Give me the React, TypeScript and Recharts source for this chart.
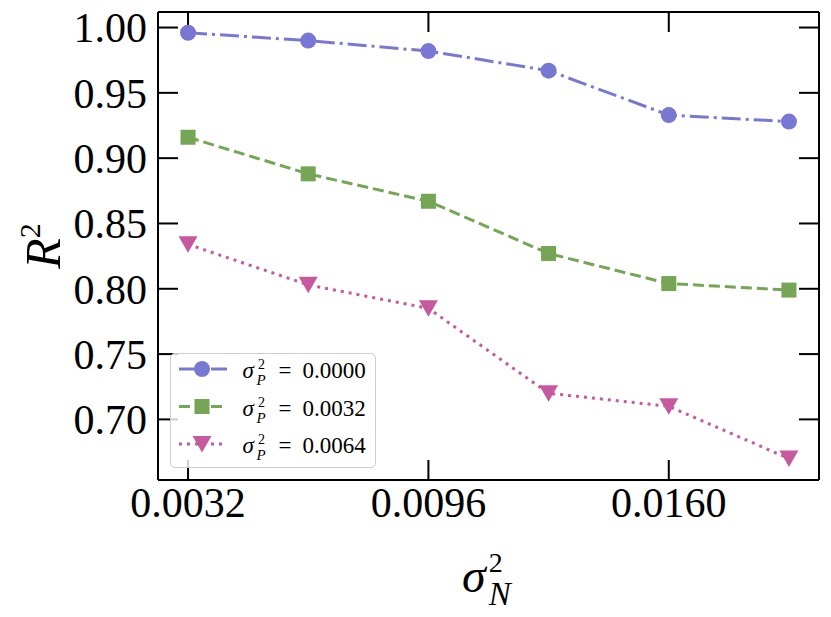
import React from "react";
import { LineChart, Line, XAxis, YAxis, Legend } from "recharts";

const SERIF = "'Liberation Serif', 'DejaVu Serif', serif";

// noise variance on the x axis, one R^2 series per prior variance
const xValues = [0.0032, 0.0064, 0.0096, 0.0128, 0.016, 0.0192];
const r2P0000 = [0.996, 0.99, 0.982, 0.967, 0.933, 0.928];
const r2P0032 = [0.916, 0.888, 0.867, 0.827, 0.804, 0.799];
const r2P0064 = [0.834, 0.803, 0.785, 0.72, 0.71, 0.67];
const seriesNames = ["0.0000", "0.0032", "0.0064"];
const xTicks = [0.0032, 0.0096, 0.016];
const yTicks = [0.7, 0.75, 0.8, 0.85, 0.9, 0.95, 1.0];

const BLUE = "#7878d4";
const GREEN = "#76a655";
const PINK = "#c75a9f";

const data = xValues.map((x, i) => ({
  x,
  p0: r2P0000[i],
  p32: r2P0032[i],
  p64: r2P0064[i],
}));

const marker = (kind: string, cx: number, cy: number, color: string, key?: any) => {
  if (kind === "circle") return <circle key={key} cx={cx} cy={cy} r={8} fill={color} />;
  if (kind === "square")
    return <rect key={key} x={cx - 7.5} y={cy - 7.5} width={15} height={15} fill={color} />;
  return (
    <polygon
      key={key}
      points={`${cx - 9.5},${cy - 8} ${cx + 9.5},${cy - 8} ${cx},${cy + 8.5}`}
      fill={color}
    />
  );
};

const styles = [
  { key: "p0", color: BLUE, dash: "19 5 3 5", kind: "circle" },
  { key: "p32", color: GREEN, dash: "11 5", kind: "square" },
  { key: "p64", color: PINK, dash: "3 5", kind: "tri" },
];

const renderLegend = () => (
  <div
    style={{
      width: 206,
      height: 115,
      boxSizing: "border-box",
      border: "1.5px solid #cccccc",
      borderRadius: 5,
      background: "rgba(255,255,255,0.8)",
    }}
  >
    <svg width={203} height={112} style={{ display: "block" }}>
      {styles.map((s, i) => {
        const cy = 15 + i * 37.5;
        return (
          <g key={s.key}>
            <line x1={8} x2={56} y1={cy} y2={cy} stroke={s.color} strokeWidth={3} strokeDasharray={s.dash} />
            {marker(s.kind, 31, cy, s.color)}
            <text fontFamily={SERIF} fill="#000" fontSize={23}>
              <tspan x={71.5} y={cy + 9} fontStyle="italic">σ</tspan>
              <tspan x={87} y={cy} fontSize={14}>2</tspan>
              <tspan x={85.5} y={cy + 16} fontSize={15} fontStyle="italic">P</tspan>
              <tspan x={107.5} y={cy + 9}>=</tspan>
              <tspan x={131.5} y={cy + 9}>{seriesNames[i]}</tspan>
            </text>
          </g>
        );
      })}
    </svg>
  </div>
);

const axisLine = { stroke: "#000", strokeWidth: 2 };
const tickLine = { stroke: "#000", strokeWidth: 2 };
const noLabel = () => <g />;

export default function App() {
  return (
    <div style={{ position: "absolute", left: 0, top: 0, width: 831, height: 617, background: "#fff" }}>
      <LineChart width={831} height={617} data={data} margin={{ top: 11, right: 11, bottom: 0, left: 0 }}>
        <XAxis
          dataKey="x"
          type="number"
          domain={[0.0024, 0.02]}
          allowDataOverflow
          ticks={xTicks}
          interval={0}
          tickFormatter={(v: number) => v.toFixed(4)}
          height={137}
          tickSize={-20}
          tickMargin={27}
          axisLine={axisLine}
          tickLine={tickLine}
          tick={{ fill: "#000", fontSize: 42, fontFamily: SERIF }}
          label={{
            content: () => (
              <text x={462} y={592} fontSize={48} fontFamily={SERIF} fill="#000">
                <tspan fontStyle="italic">σ</tspan>
                <tspan dx={3} dy={-20} fontSize={28}>2</tspan>
                <tspan dx={-14} dy={33} fontSize={33} fontStyle="italic">N</tspan>
              </text>
            ),
          }}
        />
        <XAxis
          xAxisId="top"
          orientation="top"
          dataKey="x"
          type="number"
          domain={[0.0024, 0.02]}
          allowDataOverflow
          ticks={xTicks}
          interval={0}
          height={1}
          tickSize={-20}
          axisLine={axisLine}
          tickLine={tickLine}
          tick={noLabel}
        />
        <YAxis
          type="number"
          domain={[0.6536, 1.0119]}
          allowDataOverflow
          ticks={yTicks}
          interval={0}
          tickFormatter={(v: number) => v.toFixed(2)}
          width={158}
          tickSize={-20}
          tickMargin={31}
          axisLine={axisLine}
          tickLine={tickLine}
          tick={{ fill: "#000", fontSize: 42, fontFamily: SERIF }}
          label={{
            content: () => (
              <text
                x={0}
                y={0}
                transform="translate(60,246) rotate(-90)"
                textAnchor="middle"
                fontSize={50}
                fontFamily={SERIF}
                fill="#000"
              >
                <tspan fontStyle="italic">R</tspan>
                <tspan dy={-20} fontSize={30}>2</tspan>
              </text>
            ),
          }}
        />
        <YAxis
          yAxisId="right"
          orientation="right"
          type="number"
          domain={[0.6536, 1.0119]}
          allowDataOverflow
          ticks={yTicks}
          interval={0}
          width={1}
          tickSize={-20}
          axisLine={axisLine}
          tickLine={tickLine}
          tick={noLabel}
        />
        {styles.map((s) => (
          <Line
            key={s.key}
            dataKey={s.key}
            stroke={s.color}
            strokeWidth={3}
            strokeDasharray={s.dash}
            isAnimationActive={false}
            dot={(p: any) => marker(s.kind, p.cx, p.cy, s.color, p.index)}
            activeDot={false}
          />
        ))}
        <Legend
          layout="vertical"
          align="center"
          verticalAlign="middle"
          content={renderLegend}
          wrapperStyle={{ left: 170, top: 353, width: 206, height: 115 }}
        />
      </LineChart>
    </div>
  );
}
